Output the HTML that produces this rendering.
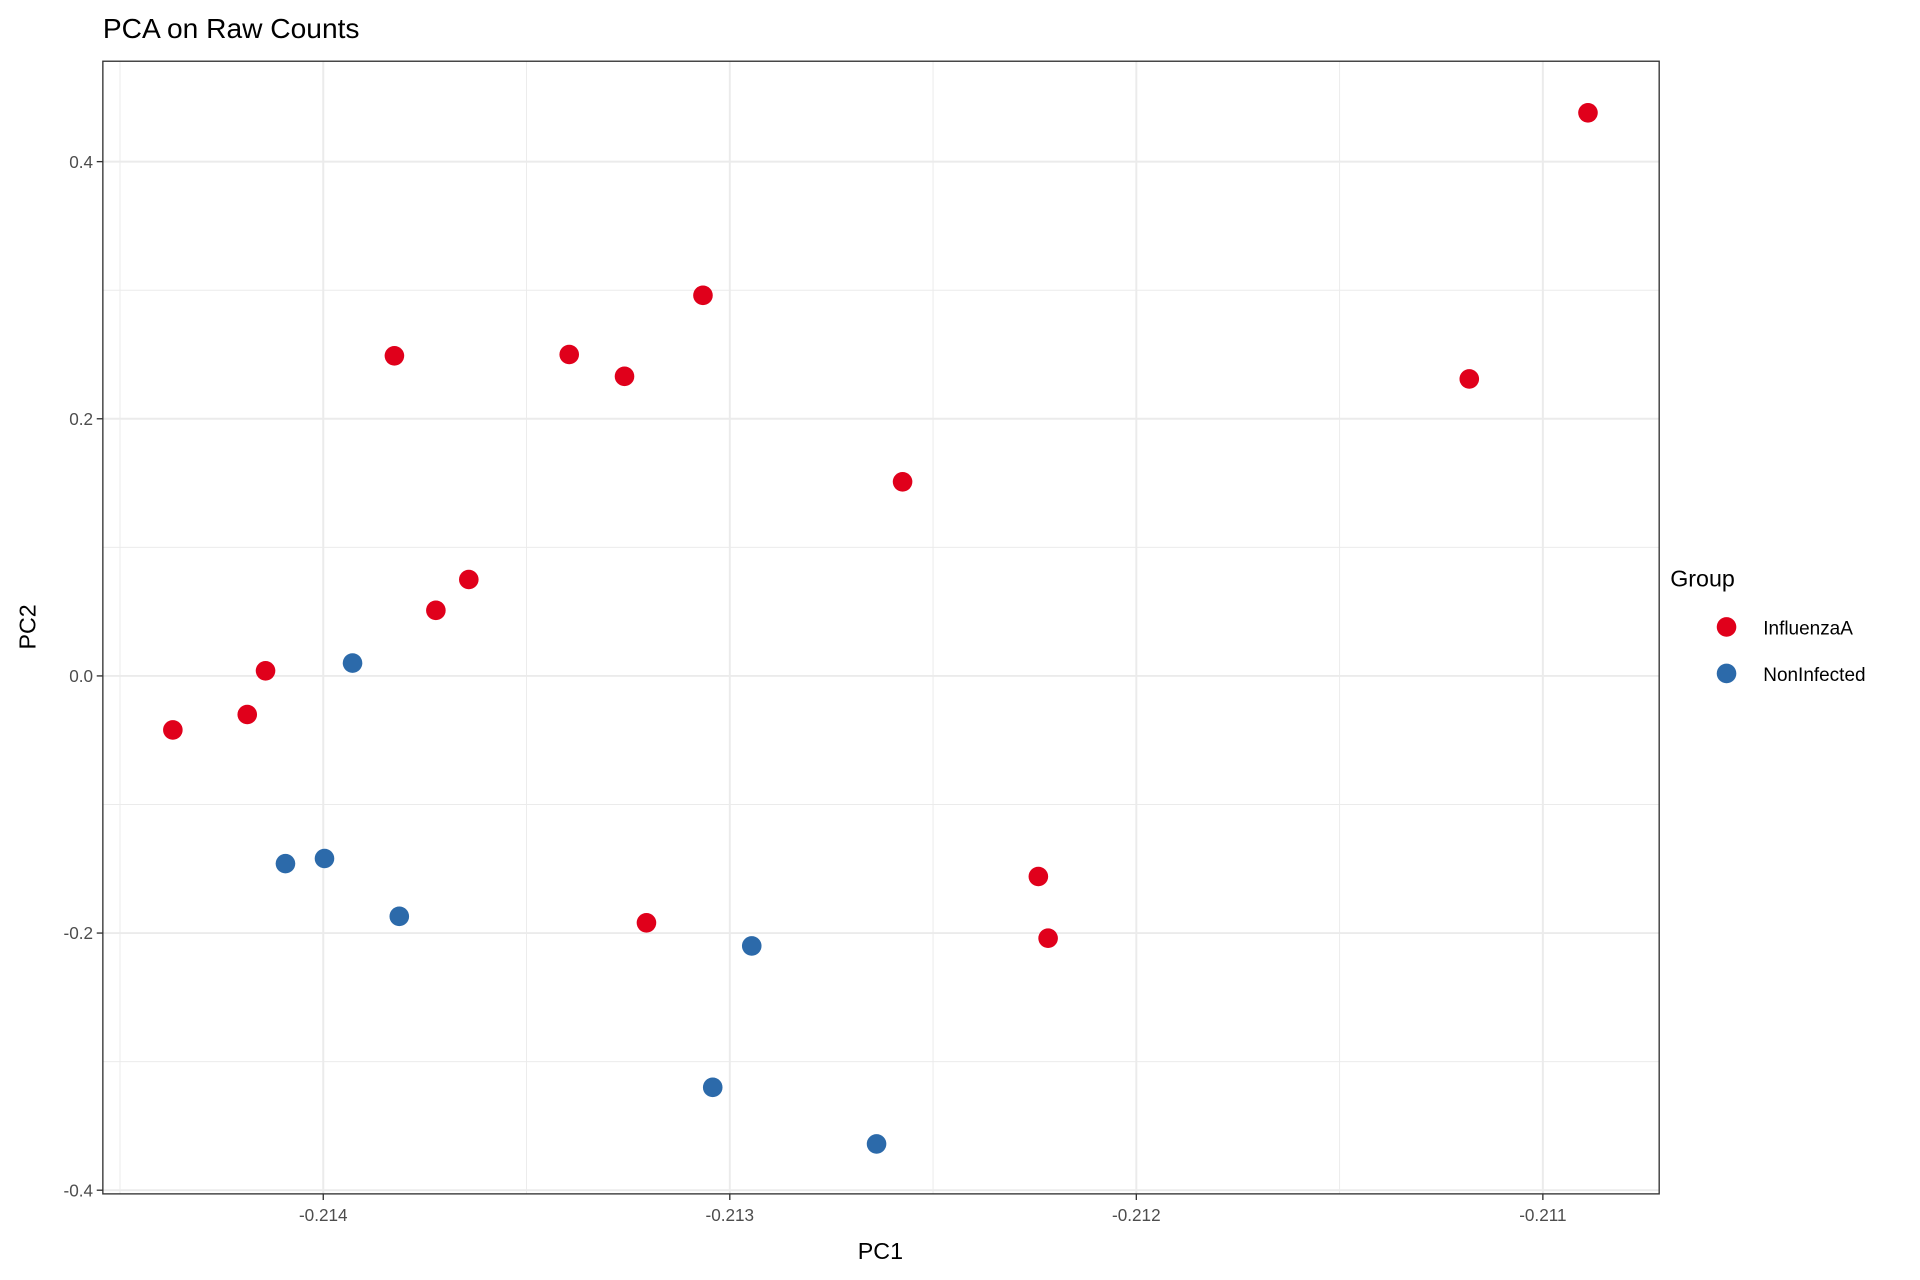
<!DOCTYPE html>
<html><head><meta charset="utf-8"><style>html,body{margin:0;padding:0;background:#fff}svg{display:block;font-family:"Liberation Sans",Arial,sans-serif}</style></head>
<body>
<svg id="chart" width="1920" height="1280" viewBox="0 0 1568 1045.33" xmlns="http://www.w3.org/2000/svg">
<rect width="1568" height="1045.33" fill="#fff"/>
<g id="grid"></g>
<g id="marks"></g>
<rect x="84" y="50" width="1271" height="925" fill="none" stroke="#333" stroke-width="1.1"/>
<g id="axes"></g>
<text x="84" y="31" font-size="23" fill="#000">PCA on Raw Counts</text>
<text x="719" y="1028" font-size="19" text-anchor="middle" fill="#000">PC1</text>
<text transform="translate(29,512) rotate(-90)" font-size="19" text-anchor="middle" fill="#000">PC2</text>
<g>
<text x="1364" y="479" font-size="19" fill="#000">Group</text>
<circle cx="1410" cy="512" r="8" fill="#e0001b"/>
<text x="1440" y="518" font-size="15.5" fill="#000">InfluenzaA</text>
<circle cx="1410" cy="550" r="8" fill="#2c6aaa"/>
<text x="1440" y="556" font-size="15.5" fill="#000">NonInfected</text>
</g>
</svg>
<script>
const xTicks=[-0.214,-0.213,-0.212,-0.211];
const xTickLabels=["-0.214","-0.213","-0.212","-0.211"];
const yTicks=[0.4,0.2,0.0,-0.2,-0.4];
const yTickLabels=["0.4","0.2","0.0","-0.2","-0.4"];
const infX=[-0.210889,-0.211181,-0.213066,-0.213395,-0.213259,-0.213825,-0.212575,-0.213642,-0.213723,-0.214142,-0.214187,-0.214370,-0.212241,-0.212217,-0.213205];
const infY=[0.438,0.231,0.296,0.250,0.233,0.249,0.151,0.075,0.051,0.004,-0.030,-0.042,-0.156,-0.204,-0.192];
const nonX=[-0.213928,-0.214093,-0.213997,-0.213813,-0.212946,-0.213042,-0.212639];
const nonY=[0.010,-0.146,-0.142,-0.187,-0.210,-0.320,-0.364];
const NS="http://www.w3.org/2000/svg";
const sx=v=>264+(v+0.214)*332000;
const sy=v=>552-v*1050;
function mk(t,a){const e=document.createElementNS(NS,t);for(const k in a)e.setAttribute(k,a[k]);return e;}
const grid=document.getElementById('grid'),axes=document.getElementById('axes'),marks=document.getElementById('marks');
const minorX=[xTicks[0]-0.0005].concat(xTicks.slice(0,-1).map((v,i)=>(v+xTicks[i+1])/2));
minorX.forEach(v=>{
 const l=mk('line',{x1:sx(v),x2:sx(v),y1:50,y2:975,stroke:'#ebebeb','stroke-width':0.8});
 
 
 grid.appendChild(l);});
for(let i=0;i<yTicks.length-1;i++){const v=(yTicks[i]+yTicks[i+1])/2;
 const l=mk('line',{x1:84,x2:1355,y1:sy(v),y2:sy(v),stroke:'#ebebeb','stroke-width':0.8});
 
 
 grid.appendChild(l);}
xTicks.forEach((v,i)=>{
 const g=mk('line',{x1:sx(v),x2:sx(v),y1:50,y2:975,stroke:'#ebebeb','stroke-width':1.6});
 
 
 grid.appendChild(g);
 const t=mk('line',{x1:sx(v),x2:sx(v),y1:975,y2:980,stroke:'#333','stroke-width':1.1});
 
 
 axes.appendChild(t);
 const tx=mk('text',{x:sx(v),y:997,'font-size':14,'text-anchor':'middle',fill:'#4d4d4d'});
 
 
 tx.textContent=xTickLabels[i];axes.appendChild(tx);});
yTicks.forEach((v,i)=>{
 const g=mk('line',{x1:84,x2:1355,y1:sy(v),y2:sy(v),stroke:'#ebebeb','stroke-width':1.6});
 
 
 grid.appendChild(g);
 const t=mk('line',{x1:79,x2:84,y1:sy(v),y2:sy(v),stroke:'#333','stroke-width':1.1});
 
 
 axes.appendChild(t);
 const tx=mk('text',{x:76,y:sy(v)+5,'font-size':14,'text-anchor':'end',fill:'#4d4d4d'});
 
 
 tx.textContent=yTickLabels[i];axes.appendChild(tx);});
infX.forEach((v,i)=>{const c=mk('circle',{cx:sx(v),cy:sy(infY[i]),r:8,fill:'#e0001b'});
 
 
 marks.appendChild(c);});
nonX.forEach((v,i)=>{const c=mk('circle',{cx:sx(v),cy:sy(nonY[i]),r:8,fill:'#2c6aaa'});
 
 
 marks.appendChild(c);});
</script>
</body></html>
